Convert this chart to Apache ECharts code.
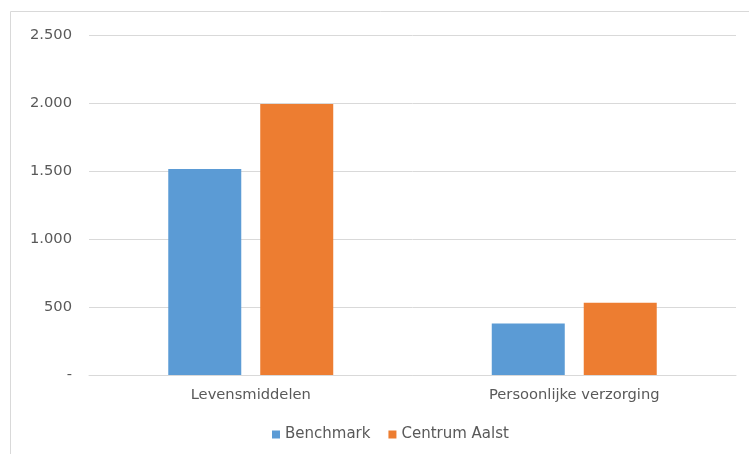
<!DOCTYPE html>
<html>
<head>
<meta charset="utf-8">
<script src="https://cdn.jsdelivr.net/npm/echarts@6/dist/echarts.min.js"></script>
<style>
html,body{margin:0;padding:0;background:#fff;}
#c{width:749px;height:454px;}
</style>
</head>
<body>
<div id="c"></div>
<script>
const categories = ['Levensmiddelen', 'Persoonlijke verzorging'];
const benchmark = [1515, 378];
const centrumAalst = [1993, 532];
const yTicks = [0, 500, 1000, 1500, 2000, 2500];

const FONT = 'DejaVu Sans, Liberation Sans, Arial, sans-serif';
const chart = echarts.init(document.getElementById('c'));
const fmt = v => v === 0 ? '-' : v.toLocaleString('de-DE');
chart.setOption({
  animation: false,
  textStyle: { fontFamily: FONT },
  graphic: [{
    type: 'rect',
    shape: { x: 10.5, y: 11.5, width: 800, height: 500 },
    style: { fill: 'none', stroke: '#d9d9d9', lineWidth: 1 },
    silent: true
  }],
  grid: { left: 89, right: 13, top: 35, bottom: 79 },
  legend: {
    bottom: 12, left: 272, padding: 0,
    itemWidth: 8, itemHeight: 8, itemGap: 18,
    icon: 'rect',
    textStyle: { color: '#595959', fontSize: 15, fontFamily: FONT },
    data: ['Benchmark', 'Centrum Aalst']
  },
  xAxis: {
    type: 'category', data: categories,
    axisLine: { lineStyle: { color: '#d9d9d9' } },
    axisTick: { show: false },
    axisLabel: { color: '#595959', fontSize: 14.7, margin: 13, fontFamily: FONT }
  },
  yAxis: {
    type: 'value', min: yTicks[0], max: yTicks[yTicks.length - 1], interval: 500,
    axisLine: { show: false }, axisTick: { show: false },
    splitLine: { lineStyle: { color: '#d9d9d9' } },
    axisLabel: { color: '#595959', fontSize: 14.7, margin: 17, formatter: fmt, fontFamily: FONT }
  },
  series: [
    { name: 'Benchmark', type: 'bar', data: benchmark, barWidth: 73, barGap: '26%',
      itemStyle: { color: '#5b9bd5' } },
    { name: 'Centrum Aalst', type: 'bar', data: centrumAalst, barWidth: 73,
      itemStyle: { color: '#ed7d31' } }
  ]
});
</script>
</body>
</html>
